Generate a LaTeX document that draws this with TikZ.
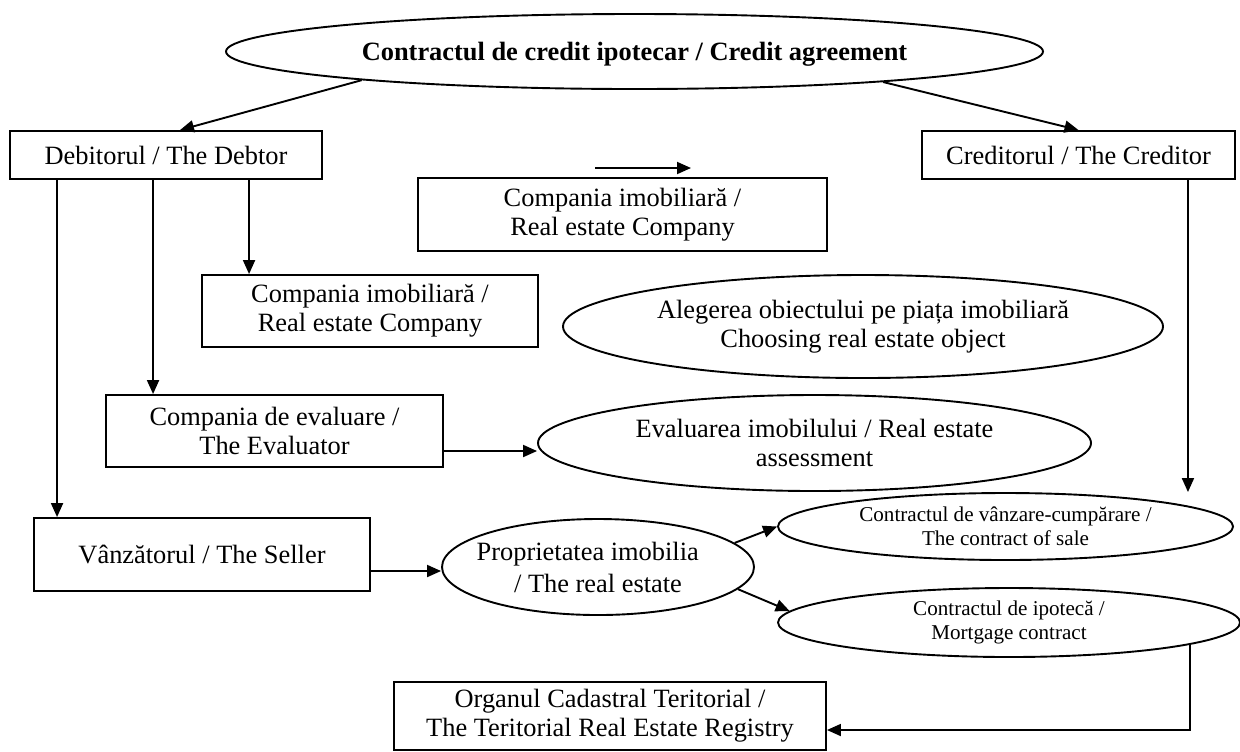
\documentclass[tikz,border=0pt]{standalone}
\usepackage{fontspec}
\setmainfont{Liberation Serif}
\usetikzlibrary{shapes.geometric,arrows.meta}
\begin{document}
\begin{tikzpicture}[x=0.5pt,y=-0.5pt,line width=0.95pt,
    >={Triangle[length=7pt,width=6pt]},
    box/.style={draw,inner sep=0pt,align=center,font=\fontsize{13.2}{14.5}\selectfont},
    oval/.style={ellipse,draw,inner sep=0pt,align=center,font=\fontsize{13.2}{14.5}\selectfont},
    smalloval/.style={oval,font=\fontsize{10.55}{12.2}\selectfont}]
\useasboundingbox (0,0) rectangle (1240,751);
\node [oval,text depth=0pt,minimum width=408.5pt,minimum height=37.5pt] (agree) at (634.5,51.5)
    {\textbf{Contractul de credit ipotecar / Credit agreement}};
\node [box,minimum width=156pt,minimum height=24pt] (debtor) at (166,155) {Debitorul / The Debtor};
\node [box,minimum width=156.5pt,minimum height=24pt] (creditor) at (1078.5,155) {Creditorul / The Creditor};
\node [box,minimum width=204.5pt,minimum height=36.5pt] (realco) at (622.5,214.5)
    {Compania imobiliară /\\Real estate Company};
\node [box,minimum width=168pt,minimum height=36pt] (realcob) at (370,311)
    {Compania imobiliară /\\Real estate Company};
\node [box,minimum width=168.5pt,minimum height=36pt] (evaluator) at (274.5,431)
    {Compania de evaluare /\\The Evaluator};
\node [box,minimum width=168pt,minimum height=36.5pt] (seller) at (202,554.5) {Vânzătorul / The Seller};
\node [box,minimum width=216pt,minimum height=34pt] (registry) at (610,716)
    {Organul Cadastral Teritorial /\\The Teritorial Real Estate Registry};
\node [oval,minimum width=300pt,minimum height=51.5pt] (choosing) at (863,326.5)
    {Alegerea obiectului pe piața imobiliară\\Choosing real estate object};
\node [oval,minimum width=276.5pt,minimum height=48pt] (assess) at (814.5,443)
    {Evaluarea imobilului / Real estate\\assessment};
\node [oval,inner xsep=-6pt,minimum width=156pt,minimum height=48pt] (property) at (598,567)
    {Proprietatea imobilia\phantom{ră}\\[1.5pt]/ The real estate};
\node [smalloval,minimum width=227.5pt,minimum height=33.5pt] (sale) at (1005.5,526.5)
    {Contractul de vânzare-cumpărare /\\The contract of sale};
\node [smalloval,minimum width=231pt,minimum height=34.5pt] (mortgage) at (1009,622.5)
    {Contractul de ipotecă /\\Mortgage contract};

\coordinate (freea) at (595,168);
\coordinate (freeb) at (691,168);
\coordinate (d1) at ([xshift=24pt]debtor.south west);
\coordinate (d2) at ([xshift=72pt]debtor.south west);
\coordinate (d3) at ([xshift=120pt]debtor.south west);
\coordinate (c1) at ([xshift=-24pt]creditor.south east);
\coordinate (e1) at ([yshift=-10pt]evaluator.east);
\coordinate (s1) at ([yshift=-8.25pt]seller.east);

\draw [->] (agree.186.5) -- ([xshift=7pt]debtor.north);
\draw [->] (agree.-7) -- (creditor.north);
\draw [->] (freea) -- (freeb);
\draw [->] (d1) -- (d1 |- seller.north);
\draw [->] (d2) -- (d2 |- evaluator.north);
\draw [->] (d3) -- (d3 |- realcob.north);
\draw [->] (c1) -- (c1 |- sale.north);
\draw [->] (e1) -- (e1 -| assess.west);
\draw [->] (s1) -- (s1 -| property.west);
\draw [->] (property.10) -- (sale.west);
\draw [->] (property.-9) -- (mortgage.177);
\draw [->] (mortgage.-7) |- ([yshift=-7pt]registry.east);
\end{tikzpicture}
\end{document}
